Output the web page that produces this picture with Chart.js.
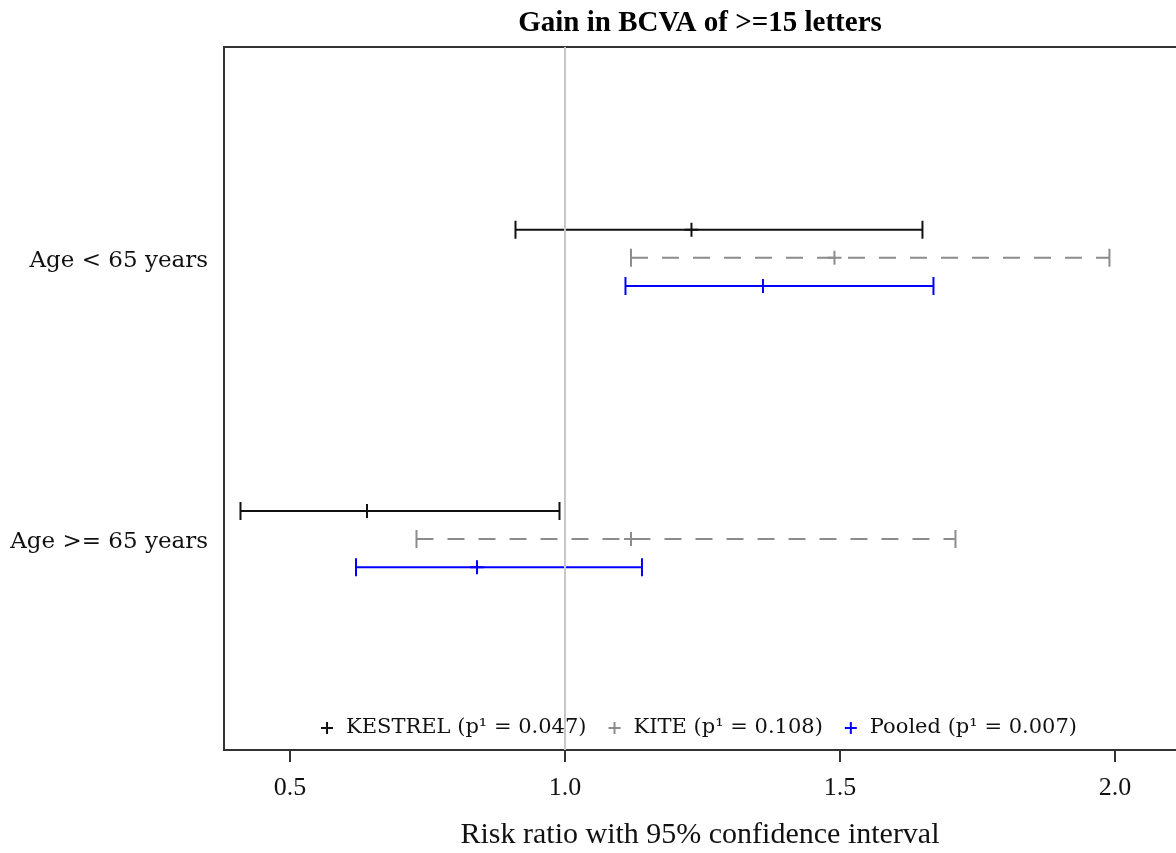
<!DOCTYPE html>
<html>
<head>
<meta charset="utf-8">
<script src="https://cdn.jsdelivr.net/npm/chart.js@4.4.1/dist/chart.umd.min.js"></script>
<style>
  body { margin: 0; background: #fff; overflow: hidden; }
  #wrap { width: 1176px; height: 853px; position: relative; }
</style>
</head>
<body>
<div id="wrap"><canvas id="forestChart"></canvas></div>
<script>
// categories and series
var categories = ["Age < 65 years", "Age >= 65 years"];
var seriesNames = ["KESTREL", "KITE", "Pooled"];
var pValues = ["0.047", "0.108", "0.007"];

// risk ratio estimates and 95% CI, one value per category
var kestrelEst  = [1.23, 0.64];
var kestrelLow  = [0.91, 0.41];
var kestrelHigh = [1.65, 0.99];

var kiteEst  = [1.49, 1.12];
var kiteLow  = [1.12, 0.73];
var kiteHigh = [1.99, 1.71];

var pooledEst  = [1.36, 0.84];
var pooledLow  = [1.11, 0.62];
var pooledHigh = [1.67, 1.14];

var xTicks = [0.5, 1.0, 1.5, 2.0];

// layout of rows on the y scale (not data)
var groupCenters = [7.5, 17.5];
var rowOffsets = [-1, 0, 1];
var seriesColors = ["#111111", "#8c8c8c", "#0000ff"];
var seriesDash = [[], [17, 14], []];

var est = [kestrelEst, kiteEst, pooledEst];
var low = [kestrelLow, kiteLow, pooledLow];
var high = [kestrelHigh, kiteHigh, pooledHigh];

var datasets = [];
// reference line at RR = 1
datasets.push({
    label: "ref",
    data: [{x: 1, y: 0}, {x: 1, y: 25}],
    borderColor: "#c8c8c8",
    borderWidth: 2,
    pointRadius: 0
});

seriesNames.forEach(function (name, s) {
    categories.forEach(function (cat, c) {
        var y = groupCenters[c] + rowOffsets[s];
        datasets.push({
            label: name,
            data: [
                {x: low[s][c], y: y, k: "cap"},
                {x: est[s][c], y: y, k: "est"},
                {x: high[s][c], y: y, k: "cap"}
            ],
            borderColor: seriesColors[s],
            borderWidth: 2,
            borderDash: seriesDash[s],
            pointBorderColor: seriesColors[s],
            pointBackgroundColor: seriesColors[s],
            pointBorderWidth: 2,
            pointStyle: function (ctx) { return ctx.raw && ctx.raw.k === "est" ? "cross" : "line"; },
            rotation: function (ctx) { return ctx.raw && ctx.raw.k === "cap" ? 90 : 0; },
            pointRadius: function (ctx) { return ctx.raw && ctx.raw.k === "est" ? 7 : 9; }
        });
    });
});

// legend drawn inside the bottom of the plot area
var innerLegend = {
    id: "innerLegend",
    afterDraw: function (chart) {
        var ctx = chart.ctx;
        var area = chart.chartArea;
        ctx.save();
        ctx.font = "21px 'DejaVu Serif'";
        ctx.textBaseline = "middle";
        var items = seriesNames.map(function (n, i) {
            return {text: n + " (p\u00b9 = " + pValues[i] + ")", color: seriesColors[i]};
        });
        var markerW = 19, gap = 28;
        var total = 0;
        items.forEach(function (it, i) {
            it.w = ctx.measureText(it.text).width;
            total += markerW + it.w + (i < items.length - 1 ? gap : 0);
        });
        var x = (area.left + area.right) / 2 - total / 2 + 2;
        var y = area.bottom - 22;
        items.forEach(function (it) {
            ctx.strokeStyle = it.color;
            ctx.lineWidth = 2;
            ctx.beginPath();
            ctx.moveTo(x - 6, y); ctx.lineTo(x + 6, y);
            ctx.moveTo(x, y - 6); ctx.lineTo(x, y + 6);
            ctx.stroke();
            ctx.fillStyle = "#111";
            ctx.textAlign = "left";
            ctx.fillText(it.text, x + markerW, y);
            x += markerW + it.w + gap;
        });
        ctx.restore();
    }
};

var ctx = document.getElementById("forestChart").getContext("2d");
new Chart(ctx, {
    type: "line",
    data: {datasets: datasets},
    options: {
        responsive: true,
        maintainAspectRatio: false,
        animation: false,
        layout: {padding: 0, autoPadding: false},
        plugins: {
            legend: {display: false},
            tooltip: {enabled: false},
            title: {
                display: true,
                text: "Gain in BCVA of >=15 letters",
                fullSize: false,
                color: "#000",
                font: {family: "'Liberation Serif'", size: 29, weight: "bold", lineHeight: 1.2},
                padding: {top: 6, bottom: 6}
            }
        },
        scales: {
            x: {
                type: "linear",
                position: "bottom",
                min: 0.38,
                max: 2.111,
                afterBuildTicks: function (scale) {
                    scale.ticks = xTicks.map(function (v) { return {value: v}; });
                },
                afterFit: function (scale) { scale.height = 103; },
                ticks: {
                    color: "#111",
                    padding: 11,
                    font: {family: "'Liberation Serif'", size: 26},
                    callback: function (v) { return v.toFixed(1); }
                },
                grid: {drawOnChartArea: false, drawTicks: true, tickLength: 12, color: "#333", lineWidth: 2},
                border: {display: true, color: "#333", width: 2},
                title: {
                    display: true,
                    text: "Risk ratio with 95% confidence interval",
                    color: "#111",
                    font: {family: "'Liberation Serif'", size: 30, lineHeight: 1.2},
                    padding: {top: 0, bottom: 0}
                }
            },
            x2: {
                type: "linear",
                position: "top",
                min: 0.38,
                max: 2.111,
                afterFit: function (scale) { scale.height = 0; },
                ticks: {display: false},
                grid: {display: false, drawTicks: false},
                border: {display: true, color: "#333", width: 2}
            },
            y: {
                type: "linear",
                reverse: true,
                min: 0,
                max: 25,
                afterBuildTicks: function (scale) {
                    scale.ticks = groupCenters.map(function (v) { return {value: v}; });
                },
                afterFit: function (scale) { scale.width = 224; },
                ticks: {
                    color: "#111",
                    padding: 8,
                    labelOffset: 3,
                    font: {family: "'DejaVu Serif'", size: 23},
                    callback: function (v) {
                        var i = groupCenters.indexOf(v);
                        return i >= 0 ? categories[i] : "";
                    }
                },
                grid: {display: false},
                border: {display: true, color: "#333", width: 2}
            }
        }
    },
    plugins: [innerLegend]
});
</script>
</body>
</html>
